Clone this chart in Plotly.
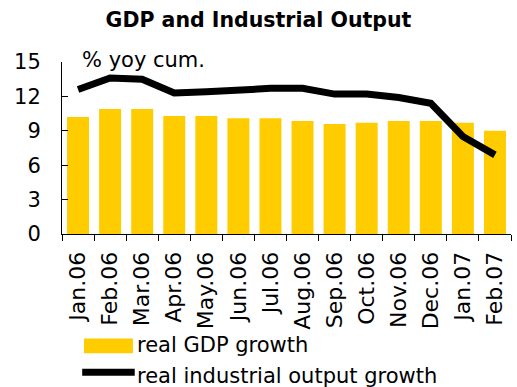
import plotly.graph_objects as go

months = ["Jan.06", "Feb.06", "Mar.06", "Apr.06", "May.06", "Jun.06", "Jul.06",
          "Aug.06", "Sep.06", "Oct.06", "Nov.06", "Dec.06", "Jan.07", "Feb.07"]
gdp = [10.2, 10.9, 10.9, 10.3, 10.3, 10.1, 10.1, 9.85, 9.6, 9.7, 9.85, 9.85, 9.7, 9.0]
industry = [12.6, 13.6, 13.5, 12.3, 12.4, 12.6, 12.7, 12.7, 12.2, 12.2, 11.9, 11.4, 8.5, 6.9]
y_ticks = [0, 3, 6, 9, 12, 15]
series_names = ["real GDP growth", "real industrial output growth"]

font = "DejaVu Sans, Verdana, sans-serif"
gold = "#FFCC00"

fig = go.Figure()
fig.add_trace(go.Bar(x=months, y=gdp, name=series_names[0],
                     marker=dict(color=gold, line=dict(width=0)), width=0.685))
fig.add_trace(go.Scatter(x=months, y=industry, name=series_names[1],
                         mode="lines", line=dict(color="black", width=7)))

fig.update_layout(
    width=517, height=387,
    margin=dict(l=62, r=6, t=62, b=153, autoexpand=False),
    paper_bgcolor="white", plot_bgcolor="white",
    font=dict(family=font, color="black", size=20),
    title=dict(text="<b>GDP and Industrial Output</b>", x=0.5, xanchor="center",
               y=0.948, yanchor="middle", font=dict(size=20.5)),
    showlegend=False,
)
fig.update_xaxes(showline=True, linecolor="black", linewidth=1, ticks="outside",
                 tickson="boundaries", ticklen=6, tickcolor="black", tickangle=-90,
                 tickfont=dict(size=22), showgrid=False, automargin=False,
                 ticklabelstandoff=8)
fig.update_yaxes(range=[0, 15], tickvals=y_ticks, showline=True, linecolor="black",
                 linewidth=1, ticks="inside", ticklen=6, tickcolor="black",
                 showgrid=False, zeroline=False, tickfont=dict(size=21),
                 automargin=False, ticklabelstandoff=16)
fig.add_annotation(text="% yoy cum.", xref="paper", yref="paper", x=0.04, y=1.01,
                   xanchor="left", yanchor="middle", showarrow=False,
                   font=dict(size=21))

# legend drawn below the axis
fig.add_shape(type="rect", xref="paper", yref="paper", x0=0.049, x1=0.158,
              y0=-0.693, y1=-0.607, fillcolor=gold, line=dict(width=0))
fig.add_shape(type="line", xref="paper", yref="paper", x0=0.045, x1=0.162,
              y0=-0.804, y1=-0.804, line=dict(color="black", width=7))
fig.add_annotation(text=series_names[0], xref="paper", yref="paper", x=0.163, y=-0.647,
                   xanchor="left", yanchor="middle", showarrow=False, font=dict(size=21))
fig.add_annotation(text=series_names[1], xref="paper", yref="paper", x=0.163, y=-0.827,
                   xanchor="left", yanchor="middle", showarrow=False, font=dict(size=21))

fig.write_html("out.html")
